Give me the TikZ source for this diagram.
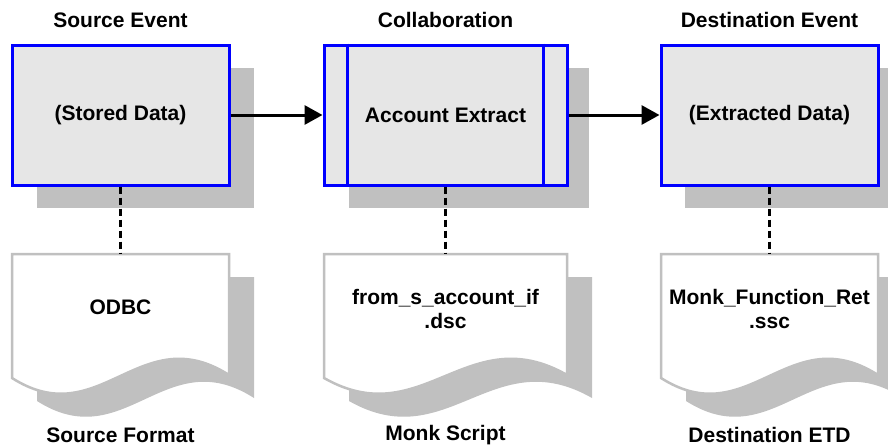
\documentclass[tikz,border=0pt]{standalone}
\usepackage{fontspec}
\setmainfont{Liberation Sans}
\usetikzlibrary{arrows.meta}
\definecolor{boxfill}{HTML}{E6E6E6}
\definecolor{shadegray}{HTML}{C0C0C0}
\definecolor{bblue}{HTML}{0000FF}
\tikzset{
  base/.style={font=\fontsize{21}{24}\selectfont\bfseries},
  evbox/.style={base, draw=bblue, line width=3pt, fill=boxfill, minimum height=140pt, inner sep=0pt, align=center},
  shadowbox/.style={fill=shadegray},
  doctext/.style={base, align=center, inner sep=0pt},
  lbl/.style={base, inner sep=0pt},
  docline/.style={draw=shadegray, line width=2.5pt, fill=white, line join=miter},
  docshadow/.style={fill=shadegray},
  dashlink/.style={line width=3pt, dash pattern=on 7pt off 4pt},
  flow/.style={line width=3pt, -{Triangle[length=18pt,width=19pt]}},
  innerline/.style={draw=bblue, line width=3pt}
}
\newcommand\docsh[4]{%
  \begin{scope}[shift={(#1,#2)}]
    \path[#4] (0,0) -- (#3,0) -- (#3,121) .. controls ({0.59*#3},64) and ({0.405*#3},180) .. (0,124) -- cycle;
  \end{scope}}
\begin{document}
\begin{tikzpicture}[x=1pt,y=-1pt]
\path[fill=white] (0,0) rectangle (888,447);
\useasboundingbox (0,0) rectangle (888,447);
\clip (0,0) rectangle (888,447);
% box shadows
\path[shadowbox] (37,68) rectangle (254,208);
\path[shadowbox] (349,68) rectangle (589,208);
\path[shadowbox] (685,68) rectangle (900,208);
% boxes
\node[evbox, minimum width=217pt] (b1) at (120.5,115) {(Stored Data)};
\node[evbox, minimum width=243pt] (b2) at (445.5,115) {Account Extract};
\node[evbox, minimum width=217pt] (b3) at (769.5,115) {(Extracted Data)};
\draw[innerline] ([xshift=25pt]b2.north west) -- ([xshift=25pt]b2.south west);
\draw[innerline] ([xshift=-25pt]b2.north east) -- ([xshift=-25pt]b2.south east);
% top labels
\node[lbl] (t1) at (120.5,20) {Source Event};
\node[lbl] (t2) at (445.5,20) {Collaboration};
\node[lbl] (t3) at (769.5,20) {Destination Event};
% arrows
\draw[flow] (b1.east) -- (b2.west);
\draw[flow] (b2.east) -- (b3.west);
% documents
\docsh{37}{277}{217}{docshadow}
\docsh{349}{277}{243}{docshadow}
\docsh{686}{277}{217}{docshadow}
\docsh{12}{254}{217}{docline}
\docsh{324}{254}{243}{docline}
\docsh{661}{254}{217}{docline}
\coordinate (d1t) at (120.5,254);
\coordinate (d2t) at (445.5,254);
\coordinate (d3t) at (769.5,254);
\node[doctext] (d1) at (120.5,307) {ODBC};
\node[doctext] (d2) at (445.5,309) {from\_s\_account\_if\\.dsc};
\node[doctext] (d3) at (769.5,309) {Monk\_Function\_Ret\\.ssc};
\draw[dashlink] (b1.south) -- (d1t);
\draw[dashlink] (b2.south) -- (d2t);
\draw[dashlink] (b3.south) -- (d3t);
% bottom labels
\node[lbl] (f1) at (120.5,435) {Source Format};
\node[lbl] (f2) at (445.5,435) {Monk Script};
\node[lbl] (f3) at (769.5,435) {Destination ETD};
\end{tikzpicture}
\end{document}
